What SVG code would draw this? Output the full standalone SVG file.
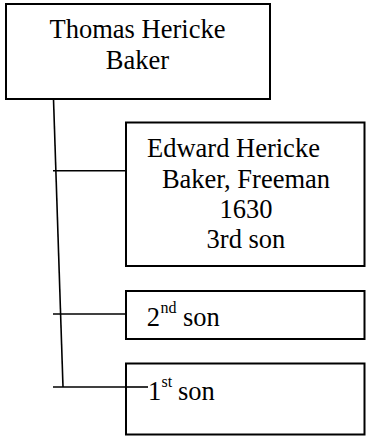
<svg xmlns="http://www.w3.org/2000/svg" width="367" height="436" viewBox="0 0 367 436">
  <style>
    .box { fill: #ffffff; stroke: #000000; stroke-width: 2; }
    .conn { stroke: #000000; stroke-width: 1.6; fill: none; }
    .t { font-family: "Liberation Serif", "Times New Roman", serif; font-size: 26.5px; fill: #000000; }
    .c { text-anchor: middle; }
    .sup { font-size: 16px; }
  </style>
  <rect width="367" height="436" fill="#ffffff"/>
  <g id="connectors">
    <line class="conn" x1="53.5" y1="99" x2="63" y2="387"/>
    <line class="conn" x1="53" y1="170.7" x2="126" y2="170.7"/>
    <line class="conn" x1="53" y1="314" x2="126" y2="314"/>
    <line class="conn" x1="53" y1="387" x2="148" y2="387"/>
  </g>
  <g id="thomas">
    <rect class="box" x="6" y="4" width="264" height="95"/>
    <text class="t c" x="137.5" y="37.5">Thomas Hericke</text>
    <text class="t c" x="137.5" y="69">Baker</text>
  </g>
  <g id="edward">
    <rect class="box" x="126" y="122.5" width="238.5" height="143.5"/>
    <text class="t" x="147" y="156.7">Edward Hericke</text>
    <text class="t c" x="246" y="187.5">Baker, Freeman</text>
    <text class="t c" x="246" y="217.5">1630</text>
    <text class="t c" x="246" y="248">3rd son</text>
  </g>
  <g id="second">
    <rect class="box" x="126" y="291" width="238.5" height="48"/>
    <text class="t" x="146.7" y="326">2<tspan class="sup" x="160.5" y="313">nd</tspan><tspan x="183" y="326">son</tspan></text>
  </g>
  <g id="first">
    <rect class="box" x="126" y="363.5" width="238.5" height="71"/>
    <line class="conn" x1="126" y1="387" x2="148" y2="387"/>
    <text class="t" x="148" y="399.5">1<tspan class="sup" x="161.5" y="386.5">st</tspan><tspan x="178" y="399.5">son</tspan></text>
  </g>
</svg>
